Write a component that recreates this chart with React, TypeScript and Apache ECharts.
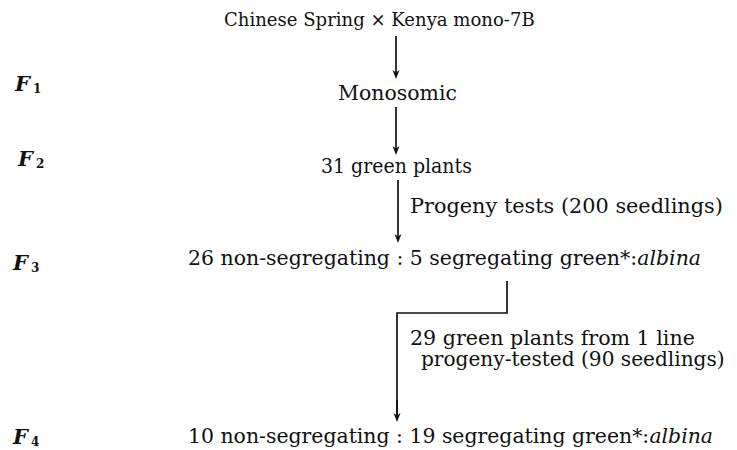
import React, { useEffect, useRef } from "react";
import * as echarts from "echarts";

const generations = ["F", "F", "F", "F"];
const generationSubs = ["1", "2", "3", "4"];
const generationX = [15, 18, 13, 13];
const generationY = [83, 158, 262, 436];

const parentLabel = "Chinese Spring × Kenya mono-7B";
const f1Label = "Monosomic";
const f2Label = "31 green plants";
const testLabel1 = "Progeny tests (200 seedlings)";
const f3Label = "26 non-segregating : 5 segregating green*:";
const testLabel2a = "29 green plants from 1 line";
const testLabel2b = "progeny-tested (90 seedlings)";
const f4Label = "10 non-segregating : 19 segregating green*:";
const recessive = "albina";

const FONT = "'DejaVu Serif', 'Liberation Serif', serif";
const SIZE = 20;

let ctx: CanvasRenderingContext2D | null = null;
function measure(text: string, size: number, italic = false) {
  if (!ctx) ctx = document.createElement("canvas").getContext("2d");
  if (!ctx) return text.length * size * 0.55;
  ctx.font = `${italic ? "italic " : ""}${size}px ${FONT}`;
  return ctx.measureText(text).width;
}

// text fitted between left and right edges
function fitTxt(left: number, right: number, y: number, main: string, ital?: string, size: number = SIZE) {
  const w = measure(main, size) + (ital ? measure(ital, size, true) : 0);
  const s = (right - left) / w;
  const style: any = {
    textAlign: "left",
    textVerticalAlign: "middle",
    fill: "#111",
    fontFamily: FONT,
    fontSize: size,
  };
  if (ital) {
    style.text = `{n|${main}}{i|${ital}}`;
    style.rich = {
      n: { fontFamily: FONT, fontSize: size, fill: "#111" },
      i: { fontFamily: FONT, fontSize: size, fontStyle: "italic", fill: "#111" },
    };
  } else {
    style.text = main;
  }
  return { type: "text", x: left, y, scaleX: s, style };
}

function arrow(x: number, y1: number, y2: number) {
  return [
    { type: "line", shape: { x1: x, y1, x2: x, y2: y2 - 6 }, style: { stroke: "#111", lineWidth: 1.7 } },
    {
      type: "polygon",
      shape: { points: [[x - 3.5, y2 - 9], [x, y2 - 6.5], [x + 3.5, y2 - 9], [x, y2]] },
      style: { fill: "#111" },
    },
  ];
}

export default function App() {
  const ref = useRef<HTMLDivElement>(null);
  useEffect(() => {
    if (!ref.current) return;
    const chart = echarts.init(ref.current, undefined, { renderer: "svg" });
    const elements: any[] = [];
    generations.forEach((g, i) => {
      elements.push({
        type: "text",
        x: generationX[i],
        y: generationY[i],
        style: {
          text: g,
          fontFamily: FONT,
          fontSize: 21,
          fontStyle: "italic",
          fontWeight: "bold",
          fill: "#111",
          textAlign: "left",
          textVerticalAlign: "middle",
        },
      });
      elements.push({
        type: "text",
        x: generationX[i] + 18,
        y: generationY[i] + 6,
        style: {
          text: generationSubs[i],
          fontFamily: FONT,
          fontSize: 12,
          fontWeight: "bold",
          fill: "#111",
          textAlign: "left",
          textVerticalAlign: "middle",
        },
      });
    });
    elements.push(fitTxt(224, 535, 19, parentLabel, undefined, 18.5));
    elements.push(...arrow(396, 36, 79));
    elements.push(fitTxt(338, 457, 93, f1Label));
    elements.push(...arrow(396, 107, 155));
    elements.push(fitTxt(321, 472, 166, f2Label));
    elements.push(...arrow(398, 180, 243));
    elements.push(fitTxt(410, 723, 206, testLabel1));
    elements.push(fitTxt(188, 701, 258, f3Label, recessive));
    elements.push({
      type: "polyline",
      shape: { points: [[507, 281], [507, 313], [397, 313], [397, 415]] },
      style: { stroke: "#111", lineWidth: 1.7, fill: null },
    });
    elements.push(...arrow(397, 400, 422));
    elements.push(fitTxt(410, 695, 338, testLabel2a));
    elements.push(fitTxt(421, 725, 359, testLabel2b));
    elements.push(fitTxt(188, 713, 436, f4Label, recessive));
    chart.setOption({
      animation: false,
      backgroundColor: "#fff",
      graphic: { elements },
    });
    return () => chart.dispose();
  }, []);
  return (
    <div
      ref={ref}
      style={{ position: "fixed", left: 0, top: 0, width: 737, height: 450 }}
    />
  );
}
